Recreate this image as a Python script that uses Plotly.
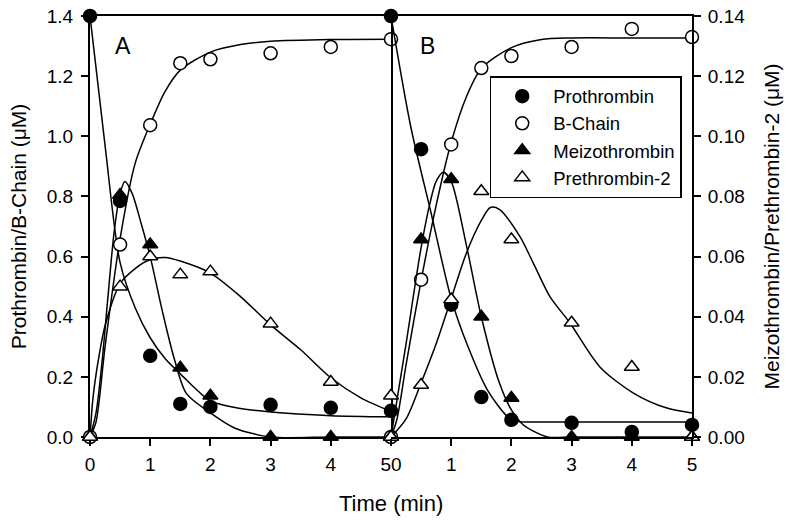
import plotly.graph_objects as go

# ---------------- data ----------------
time_pts = [0, 0.5, 1, 1.5, 2, 3, 4, 5]

# Panel A
protA = [1.40, 0.785, 0.27, 0.11, 0.10, 0.107, 0.097, 0.087]
bchainA = [0.0, 0.64, 1.037, 1.243, 1.256, 1.276, 1.297, 1.323]
meizoA = [0.0, 0.0805, 0.064, 0.023, 0.0137, 0.0, 0.0, 0.0]
pre2A = [0.0, 0.050, 0.060, 0.054, 0.055, 0.0377, 0.0183, 0.0137]

# Panel B
protB = [1.40, 0.957, 0.44, 0.133, 0.057, 0.047, 0.017, 0.040]
bchainB = [0.0, 0.523, 0.973, 1.227, 1.267, 1.297, 1.357, 1.330]
meizoB = [0.0, 0.0657, 0.0857, 0.040, 0.013, 0.0, 0.0, 0.0]
pre2B = [0.0, 0.0173, 0.0457, 0.0817, 0.0657, 0.038, 0.0233, 0.0]

# fitted curves
fitA_prot_t = [0, 0.25, 0.5, 0.75, 1.0, 1.25, 1.5, 2.0, 2.5, 3.0, 4.0, 5.0]
fitA_prot = [1.40, 0.97, 0.58, 0.43, 0.33, 0.26, 0.21, 0.12, 0.095, 0.083, 0.071, 0.067]

fitA_bch_t = [0, 0.1, 0.25, 0.5, 0.75, 1.0, 1.25, 1.5, 2.0, 2.5, 3.0, 4.0, 5.0]
fitA_bch = [0, 0.05, 0.30, 0.66, 0.91, 1.04, 1.15, 1.22, 1.28, 1.305, 1.316, 1.322, 1.323]

fitA_mei_t = [0, 0.1, 0.2, 0.3, 0.4, 0.5, 0.58, 0.7, 0.85, 1.0, 1.2, 1.4, 1.6, 2.0, 2.4, 3.0, 4.0, 5.0]
fitA_mei = [0, 0.008, 0.025, 0.047, 0.068, 0.081, 0.085, 0.081, 0.071, 0.060, 0.042, 0.026, 0.0145, 0.008, 0.003, 0, 0, 0]

fitA_pre_t = [0, 0.04, 0.08, 0.15, 0.25, 0.5, 0.75, 1.0, 1.25, 1.5, 2.0, 2.5, 3.0, 3.5, 4.0, 4.5, 5.0]
fitA_pre = [0, 0.011, 0.018, 0.027, 0.037, 0.051, 0.056, 0.059, 0.0597, 0.0585, 0.0545, 0.0467, 0.0373, 0.029, 0.0197, 0.013, 0.0085]

fitB_prot_t = [0, 0.33, 0.66, 1.0, 1.28, 1.6, 1.94, 2.1, 2.3, 3.0, 4.0, 5.0]
fitB_prot = [1.40, 1.03, 0.75, 0.46, 0.30, 0.157, 0.067, 0.052, 0.05, 0.05, 0.05, 0.05]

fitB_bch_t = [0, 0.1, 0.25, 0.5, 0.75, 1.0, 1.25, 1.5, 2.0, 2.5, 3.0, 4.0, 5.0]
fitB_bch = [0, 0.06, 0.24, 0.52, 0.77, 0.98, 1.13, 1.225, 1.295, 1.322, 1.327, 1.327, 1.327]

fitB_mei_t = [0, 0.25, 0.5, 0.65, 0.75, 0.87, 1.0, 1.25, 1.5, 1.8, 2.0, 2.2, 2.6, 3.0, 4.0, 5.0]
fitB_mei = [0, 0.031, 0.063, 0.078, 0.085, 0.088, 0.085, 0.064, 0.040, 0.018, 0.009, 0.004, 0, 0, 0, 0]

fitB_pre_t = [0, 0.25, 0.5, 0.75, 1.0, 1.25, 1.5, 1.65, 1.8, 2.14, 2.36, 2.64, 2.97, 3.47, 4.02, 4.57, 5.0]
fitB_pre = [0, 0.006, 0.018, 0.031, 0.046, 0.061, 0.072, 0.0763, 0.0757, 0.0667, 0.058, 0.0467, 0.038, 0.0233, 0.0147, 0.0097, 0.008]

x_tick_vals = [0, 1, 2, 3, 4, 5]
x_tick_text_A = ["0", "1", "2", "3", "4", "50"]
x_tick_text_B = ["", "1", "2", "3", "4", "5"]

FONT = "Liberation Sans, Arial, sans-serif"
fig = go.Figure()

curve_line = dict(color="black", width=1.5, shape="spline", smoothing=0.8)

def curve(t, v, xa, ya):
    fig.add_trace(go.Scatter(x=t, y=v, mode="lines", line=curve_line,
                             xaxis=xa, yaxis=ya, showlegend=False, hoverinfo="skip"))

curve(fitA_prot_t, fitA_prot, "x", "y")
curve(fitA_bch_t, fitA_bch, "x", "y")
curve(fitA_mei_t, fitA_mei, "x", "y2")
curve(fitA_pre_t, fitA_pre, "x", "y2")
curve(fitB_prot_t, fitB_prot, "x2", "y")
curve(fitB_bch_t, fitB_bch, "x2", "y")
curve(fitB_mei_t, fitB_mei, "x2", "y2")
curve(fitB_pre_t, fitB_pre, "x2", "y2")

MS = 13
styles = {
    "Prothrombin": dict(symbol="circle", size=MS, color="black", line=dict(color="black", width=1.5)),
    "B-Chain": dict(symbol="circle", size=MS, color="white", line=dict(color="black", width=1.5)),
    "Meizothrombin": dict(symbol="triangle-up", size=MS, color="black", line=dict(color="black", width=1.5)),
    "Prethrombin-2": dict(symbol="triangle-up", size=MS, color="white", line=dict(color="black", width=1.5)),
}

def pts(name, vals, xa, ya, legend):
    fig.add_trace(go.Scatter(x=time_pts, y=vals, mode="markers", name=name,
                             marker=styles[name], xaxis=xa, yaxis=ya,
                             showlegend=legend, cliponaxis=False))

pts("Prothrombin", protA, "x", "y", True)
pts("B-Chain", bchainA, "x", "y", True)
pts("Meizothrombin", meizoA, "x", "y2", True)
pts("Prethrombin-2", pre2A, "x", "y2", True)
pts("Prothrombin", protB, "x2", "y", False)
pts("B-Chain", bchainB, "x2", "y", False)
pts("Meizothrombin", meizoB, "x2", "y2", False)
pts("Prethrombin-2", pre2B, "x2", "y2", False)

axis_common = dict(showline=True, linecolor="black", linewidth=2,
                   ticks="outside", ticklen=7, tickwidth=1.5, tickcolor="black",
                   showgrid=False, zeroline=False, automargin=False,
                   tickfont=dict(family=FONT, size=19, color="black"))

fig.update_layout(
    width=800, height=524,
    margin=dict(l=90, r=108, t=16, b=87),
    paper_bgcolor="white", plot_bgcolor="rgba(0,0,0,0)",
    font=dict(family=FONT, color="black"),
    xaxis=dict(domain=[0, 0.5], range=[0, 5], anchor="y", mirror=True, ticklabelstandoff=2,
               tickmode="array", tickvals=x_tick_vals, ticktext=x_tick_text_A, **axis_common),
    xaxis2=dict(domain=[0.5, 1], range=[0, 5], anchor="y2", mirror=True, ticklabelstandoff=2,
                tickmode="array", tickvals=x_tick_vals, ticktext=x_tick_text_B, **axis_common),
    yaxis=dict(range=[0, 1.4], anchor="x", dtick=0.2, tickformat=".1f", mirror=True, ticklabelstandoff=4,
               title=dict(text="Prothrombin/B-Chain (μM)", font=dict(family=FONT, size=21), standoff=14),
               **axis_common),
    yaxis2=dict(range=[0, 0.14], anchor="x2", side="right", dtick=0.02, tickformat=".2f", mirror=False,
                ticklabelstandoff=3,
                title=dict(text="Meizothrombin/Prethrombin-2 (μM)", font=dict(family=FONT, size=21), standoff=20),
                **axis_common),
    legend=dict(x=0.664, y=0.857, xanchor="left", yanchor="top",
                bgcolor="white", bordercolor="black", borderwidth=1.5,
                font=dict(family=FONT, size=18.5, color="black"), itemwidth=52,
                tracegroupgap=0),
    annotations=[
        dict(text="Time (min)", xref="paper", yref="paper", x=0.5, y=-0.157,
             xanchor="center", yanchor="middle", showarrow=False,
             font=dict(family=FONT, size=22)),
        dict(text="A", xref="x", yref="y", x=0.55, y=1.3, showarrow=False,
             font=dict(family=FONT, size=23)),
        dict(text="B", xref="x2", yref="y", x=0.61, y=1.3, showarrow=False,
             font=dict(family=FONT, size=23)),
    ],
)

fig.write_html("out.html", config={"displayModeBar": False},
               post_script="document.body.style.margin='0';")
